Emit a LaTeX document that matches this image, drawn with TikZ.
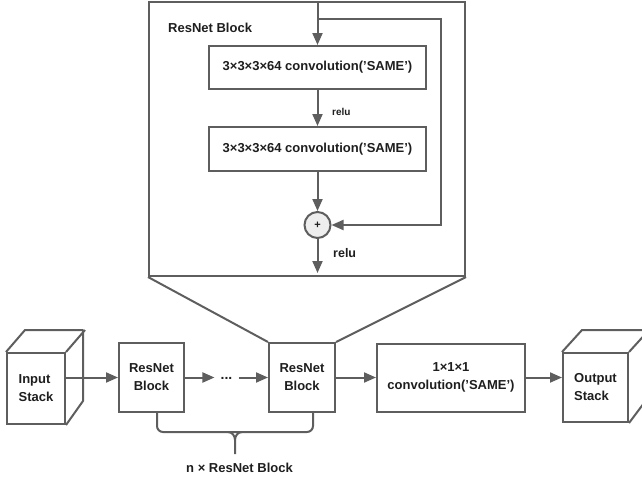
\documentclass[tikz,border=0pt]{standalone}
\usepackage{fontspec}
\setmainfont{Liberation Sans}
\usetikzlibrary{arrows.meta,calc}
\definecolor{ln}{HTML}{5E5E5E}
\definecolor{txt}{HTML}{1E1E1E}
\definecolor{sumfill}{HTML}{EEEEEE}
\tikzset{
  base/.style={draw=ln, line width=2pt, text=txt, font=\fontsize{13}{18}\selectfont\bfseries},
  box/.style={base, rectangle, inner sep=0pt, align=center},
  cubeface/.style={base, rectangle, inner sep=0pt, align=left},
  lbl/.style={text=txt, inner sep=0pt, font=\fontsize{13}{18}\selectfont\bfseries},
  conn/.style={draw=ln, line width=2pt},
  arr/.style={conn, -{Triangle[length=12pt,width=10pt]}},
}
\begin{document}
\begin{tikzpicture}[x=1pt, y=-1pt]
\useasboundingbox (0,0) rectangle (642,483);

% ---- detail of one residual block ----
\node[box, minimum width=316pt, minimum height=274pt] (frame) at (307,139) {};
\node[lbl, anchor=west] (title) at (168,28) {ResNet Block};

\node[box, minimum width=217pt, minimum height=43pt] (convA) at (317.5,67.5) {3×3×3×64 convolution('SAME')};
\node[box, minimum width=217pt, minimum height=44pt] (convB) at (317.5,149) {3×3×3×64 convolution('SAME')};
\node[base, circle, fill=sumfill, minimum size=26pt, inner sep=0pt,
      font=\fontsize{11}{12}\selectfont\bfseries] (sum) at (317.5,225) {+};

\coordinate (inTop) at (317.5,2);
\coordinate (split) at (317.5,19);
\coordinate (skipR) at (441,19);
\coordinate (outEnd) at (317.5,273);

\draw[arr] (inTop) -- (convA.north);
\draw[arr] (split) -- (skipR) |- (sum.east);
\draw[arr] (convA.south) -- (convB.north);
\node[lbl, anchor=west, font=\fontsize{10}{12}\selectfont\bfseries] (reluA) at (332,112) {relu};
\draw[arr] (convB.south) -- (sum.north);
\draw[arr] (sum.south) -- (outEnd);
\node[lbl, anchor=west, font=\fontsize{12.5}{15}\selectfont\bfseries] (reluB) at (333,253) {relu};

% ---- network pipeline ----
\node[cubeface, minimum width=58pt, minimum height=71pt] (inStack) at (36,388.5) {Input\\Stack};
\draw[conn, line join=round] (inStack.north west) -- ++(19,-22) -- ++(58,0) -- ++(0,71) -- (inStack.south east);
\draw[conn] (inStack.north east) -- ++(19,-22);

\node[box, minimum width=65pt, minimum height=69pt] (res1) at (151.5,377.5) {ResNet\\Block};
\node[lbl, inner sep=6pt, font=\fontsize{14}{16}\selectfont\bfseries] (dots) at (226.5,378) {...};
\node[box, minimum width=66pt, minimum height=69pt] (res2) at (302,377.5) {ResNet\\Block};
\node[box, minimum width=148pt, minimum height=68pt] (conv1) at (451,377.5) {1×1×1\\convolution('SAME')};

\node[cubeface, minimum width=65pt, minimum height=69pt] (outStack) at (595.5,387.5) {Output\\Stack};
\draw[conn, line join=round] (outStack.north west) -- ++(20,-22) -- ++(65,0) -- ++(0,69) -- (outStack.south east);
\draw[conn] (outStack.north east) -- ++(20,-22);

\draw[arr] (inStack.east |- res1.west) -- (res1.west);
\draw[arr] (res1.east) -- (dots.west |- res1.east);
\draw[arr] (dots.east |- res2.west) -- (res2.west);
\draw[arr] (res2.east) -- (conv1.west |- res2.east);
\draw[arr] (conv1.east) -- (outStack.west |- conv1.east);

% zoom lines joining the detail to the second block
\draw[conn] (frame.south west) -- (res2.north west);
\draw[conn] (frame.south east) -- (res2.north east);

% brace spanning the repeated blocks
\coordinate (brL) at ([xshift=5.5pt]res1.south);
\coordinate (brR) at ([xshift=11pt]res2.south);
\coordinate (brTip) at (235,454);
\draw[conn, rounded corners=6pt] (brL) -- (157,432) -- (313,432) -- (brR);
\draw[conn] (228,432) to[out=0,in=90] (235,440) -- (brTip);
\draw[conn] (242,432) to[out=180,in=90] (235,440);
\node[lbl] (count) at (239.5,468) {n × ResNet Block};
\end{tikzpicture}
\end{document}
